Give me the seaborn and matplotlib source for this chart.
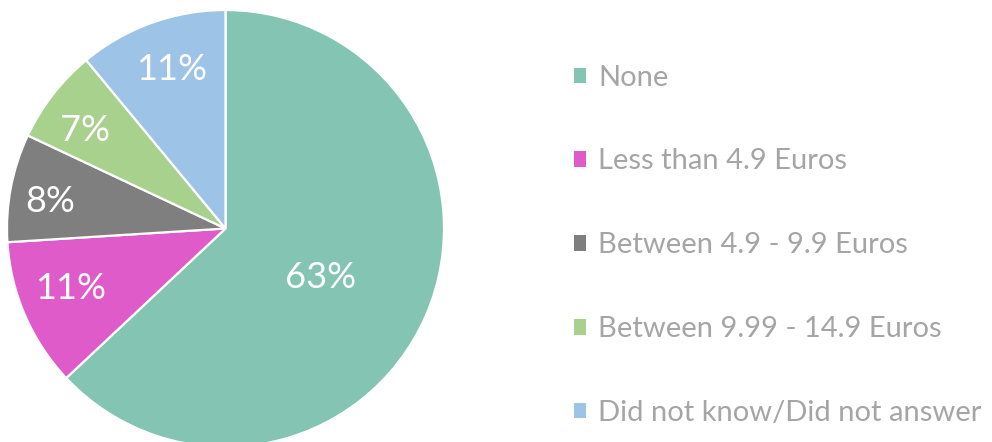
import numpy as np
import matplotlib
matplotlib.use("Agg")
import matplotlib.pyplot as plt
from matplotlib.patches import Patch
import seaborn as sns

categories = ["None", "Less than 4.9 Euros", "Between 4.9 - 9.9 Euros",
              "Between 9.99 - 14.9 Euros", "Did not know/Did not answer"]
shares = [63, 11, 8, 7, 11]
colors = ["#84C4B3", "#DF5BC9", "#7F7F7F", "#A9D18E", "#9DC3E6"]

sns.set_theme(style="white")
plt.rcParams["font.family"] = ["Lato", "DejaVu Sans"]
palette = sns.color_palette(colors)

fig = plt.figure(figsize=(9.92, 4.42), dpi=100)
ax = fig.add_axes([7 / 992, (442 - 447) / 442, 437 / 992, 437 / 442])

wedges, _ = ax.pie(shares, colors=palette, startangle=90, counterclock=False,
                   radius=1.0, wedgeprops=dict(edgecolor="white", linewidth=1.6))
ax.set_xlim(-1, 1)
ax.set_ylim(-1, 1)
ax.set_aspect("equal")
ax.axis("off")

# percentage labels: radial distance and angular nudge (degrees) per wedge
label_radius = [0.49, 0.76, 0.81, 0.785, 0.77]
label_nudge = [-4.0, -2.4, 2.0, 2.8, -1.0]
for w, s, r, d in zip(wedges, shares, label_radius, label_nudge):
    mid = np.deg2rad((w.theta1 + w.theta2) / 2 + d)
    ax.text(r * np.cos(mid), r * np.sin(mid), f"{s}%", color="white",
            fontsize=26, ha="center", va="center")

handles = [Patch(facecolor=c, edgecolor="none") for c in palette]
leg = fig.legend(handles, categories, loc="upper left",
                 bbox_to_anchor=(559 / 992, 1 - 50 / 442),
                 frameon=False, fontsize=21, labelcolor="#A5A5A5",
                 handlelength=0.43, handleheight=0.43, handletextpad=0.41,
                 labelspacing=1.985, borderpad=0)

fig.savefig("out.png", dpi=100)
